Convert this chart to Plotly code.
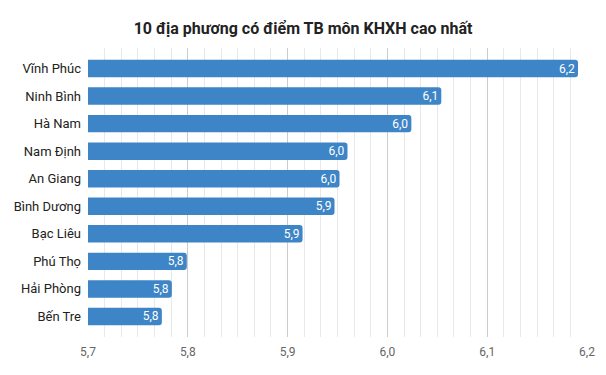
import plotly.graph_objects as go

provinces = ["Vĩnh Phúc", "Ninh Bình", "Hà Nam", "Nam Định", "An Giang",
             "Bình Dương", "Bạc Liêu", "Phú Thọ", "Hải Phòng", "Bến Tre"]
scores = [6.191, 6.054, 6.024, 5.960, 5.952, 5.947, 5.915, 5.799, 5.784, 5.774]
labels = ["6,2", "6,1", "6,0", "6,0", "6,0", "5,9", "5,9", "5,8", "5,8", "5,8"]
tick_vals = [5.7, 5.8, 5.9, 6.0, 6.1, 6.2]
tick_text = ["5,7", "5,8", "5,9", "6,0", "6,1", "6,2"]

fig = go.Figure(go.Bar(
    y=provinces, x=scores, orientation="h",
    marker=dict(color="#3d85c6", line=dict(width=0)),
    text=labels, textposition="inside", insidetextanchor="end",
    constraintext="none",
    textfont=dict(color="white", size=12, family="Roboto"),
    cliponaxis=False,
))

fig.update_layout(
    width=606, height=375,
    margin=dict(l=88, r=19, t=48, b=38),
    paper_bgcolor="white", plot_bgcolor="white",
    title=dict(text="<b>10 địa phương có điểm TB môn KHXH cao nhất</b>",
               x=0.5, xanchor="center", y=1 - 28/375, yanchor="middle",
               font=dict(family="Roboto", size=16, color="#222222")),
    bargap=0.365,
    barcornerradius=3,
    showlegend=False,
    font=dict(family="Roboto"),
    uniformtext=dict(minsize=12, mode="show"),
)

fig.update_xaxes(
    range=[5.7, 6.2], tickvals=tick_vals, ticktext=tick_text,
    showgrid=True, gridcolor="#cccccc", gridwidth=1,
    minor=dict(dtick=0.1/6, showgrid=True, gridcolor="#e8e8e8", gridwidth=1, tick0=5.7),
    zeroline=False, showline=False,
    tickfont=dict(size=12, color="#666666", family="Roboto"),
    ticks="", ticklabelstandoff=6,
)
fig.update_yaxes(
    categoryorder="array", categoryarray=provinces, autorange=False,
    range=[9.745, -0.745],
    showgrid=False, zeroline=False, showline=False, ticks="",
    tickfont=dict(size=13, color="#222222", family="Roboto"),
    ticklabelstandoff=6,
)

fig.write_html("out.html")
